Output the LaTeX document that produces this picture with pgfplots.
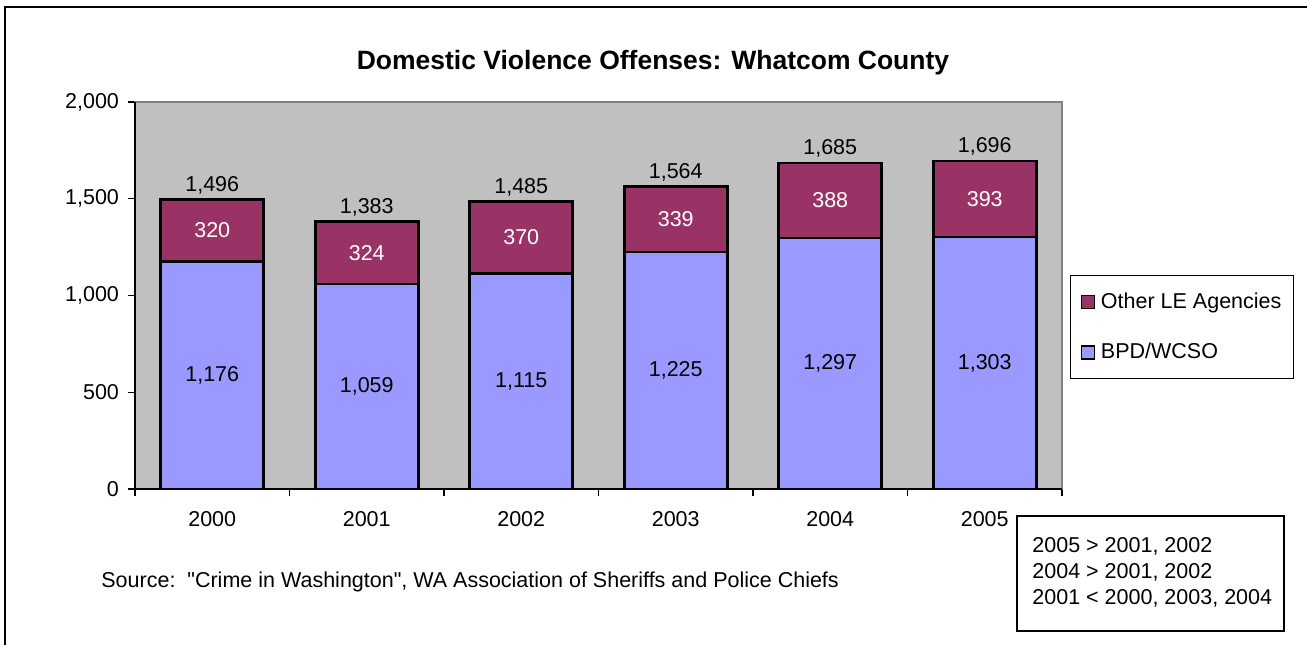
\documentclass[border=0pt]{standalone}
\usepackage{pgfplots}
\pgfplotsset{compat=1.18}
\usepackage{pgfplotstable}
\usepackage{fontspec}
\setmainfont{Liberation Sans}
\newfontfamily\nolig{Liberation Sans}[Ligatures=TeXOff]
\definecolor{bpd}{HTML}{9999FF}
\definecolor{oth}{HTML}{993366}
\definecolor{plotbg}{HTML}{C0C0C0}
\definecolor{plotborder}{HTML}{808080}
\newcommand\fs{\fontsize{10.75pt}{13pt}\selectfont}

\pgfplotstableread{
x bpd other total
0 1176 320 1496
1 1059 324 1383
2 1115 370 1485
3 1225 339 1564
4 1297 388 1685
5 1303 393 1696
}\data

\begin{document}
\begin{tikzpicture}
\begin{scope}[x=0.5pt,y=-0.5pt]
\useasboundingbox (0,0) rectangle (1307,644);
\draw[black, line width=1pt] (5,650) -- (5,7) -- (1315,7);
\node[font=\fontsize{13.25pt}{16pt}\selectfont\bfseries, anchor=base, inner sep=0pt] at (653,69.5) {Domestic Violence Offenses: Whatcom County};
\node[font=\fs\nolig, anchor=base west, inner sep=0pt] at (101,587) {Source:\ \ "Crime in Washington", WA Association of Sheriffs and Police Chiefs};
\draw[black, line width=0.75pt] (1017,516) rectangle (1284,631);
\node[font=\fs, anchor=base west, inner sep=0pt] at (1032,552.5) {2005 > 2001, 2002};
\node[font=\fs, anchor=base west, inner sep=0pt] at (1032,578.5) {2004 > 2001, 2002};
\node[font=\fs, anchor=base west, inner sep=0pt] at (1032,604.5) {2001 < 2000, 2003, 2004};
\end{scope}

\begin{axis}[
  at={(67.5pt,-244.5pt)}, anchor=south west,
  scale only axis, width=463.5pt, height=193.5pt,
  ybar stacked, bar width=51.5pt,
  xmin=-0.5, xmax=5.5, ymin=0, ymax=2000,
  axis background/.style={fill=plotbg},
  axis line style={draw=plotborder, line width=0.75pt},
  tick align=outside,
  xtick pos=bottom, ytick pos=left,
  xtick={-0.5,0.5,...,5.5}, xticklabels={,,,,,,},
  ytick={0,500,...,2000},
  major tick length=3.5pt,
  tick style={black, line width=0.6pt},
  extra x ticks={0,1,2,3,4,5},
  extra x tick labels={2000,2001,2002,2003,2004,2005},
  extra x tick style={major tick length=0pt},
  xticklabel style={font=\fs, yshift=-7.5pt},
  yticklabel style={font=\fs, xshift=-1pt, /pgf/number format/1000 sep={,}, /pgf/number format/assume math mode=true},
  reverse legend,
  legend style={at={(1.0086,0.553)}, anchor=north west, draw=black, line width=0.6pt,
     inner xsep=5pt, inner ysep=7.5pt, row sep=14pt, column sep=2pt, font=\fs,
     nodes={inner sep=1pt}},
  legend cell align=left,
  legend image code/.code={\draw[#1,line width=0.7pt] (0pt,-3.25pt) rectangle (6.5pt,3.25pt);},
  after end axis/.code={
    \draw[black, line width=0.75pt] (rel axis cs:0,1) -- (rel axis cs:0,0) -- (rel axis cs:1,0);
  },
]
\addplot[fill=bpd, draw=black, line width=1.3pt] table[x=x, y=bpd] {\data};
\addlegendentry{BPD/WCSO}
\addplot[fill=oth, draw=black, line width=1.3pt] table[x=x, y=other] {\data};
\addlegendentry{Other LE Agencies}
\end{axis}

\begin{axis}[
  at={(67.5pt,-244.5pt)}, anchor=south west,
  scale only axis, width=463.5pt, height=193.5pt,
  xmin=-0.5, xmax=5.5, ymin=0, ymax=2000,
  hide axis,
  point meta=explicit,
  nodes near coords={\pgfmathprintnumber[1000 sep={,}, assume math mode=true]{\pgfplotspointmeta}},
  every node near coord/.style={anchor=center, font=\fs},
]
\addplot[draw=none, mark=none] table[x=x, y expr=\thisrow{bpd}/2, meta=bpd] {\data};
\addplot[draw=none, mark=none, every node near coord/.append style={text=white}] table[x=x, y expr=\thisrow{bpd}+\thisrow{other}/2, meta=other] {\data};
\addplot[draw=none, mark=none, every node near coord/.append style={anchor=south, inner sep=0pt, yshift=2.5pt}] table[x=x, y=total, meta=total] {\data};
\end{axis}
\end{tikzpicture}
\end{document}
